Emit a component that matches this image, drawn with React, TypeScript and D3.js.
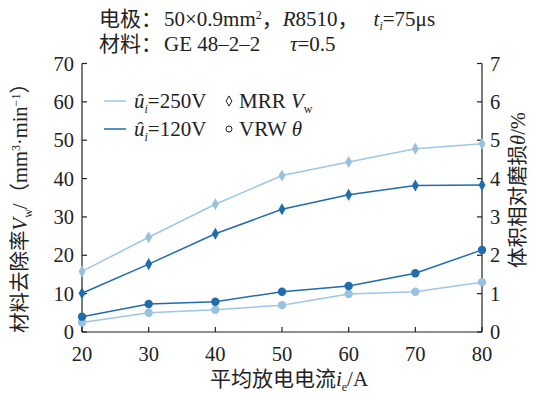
import React from "react";
import * as d3 from "d3";

const currents = [20, 30, 40, 50, 60, 70, 80];
const mrr250 = [15.8, 24.7, 33.3, 40.8, 44.3, 47.8, 49.1];
const mrr120 = [10.1, 17.7, 25.6, 32.0, 35.8, 38.2, 38.3];
const vrw250 = [0.25, 0.5, 0.58, 0.7, 0.99, 1.05, 1.3];
const vrw120 = [0.4, 0.73, 0.79, 1.05, 1.2, 1.53, 2.14];
const leftTicks = [0, 10, 20, 30, 40, 50, 60, 70];
const rightTicks = [0, 1, 2, 3, 4, 5, 6, 7];
const xTicks = [20, 30, 40, 50, 60, 70, 80];

const LIGHT = "#9fc6e3";
const LIGHT_M = "#98c1e0";
const DARK = "#1f6cae";
const FONT = "'Liberation Serif', 'Noto Sans CJK SC', serif";

export default function App() {
  const W = 536, H = 393;
  const left = 82, right = 482, top = 63.5, bottom = 332;
  const x = d3.scaleLinear().domain([20, 80]).range([left, right]);
  const yL = d3.scaleLinear().domain([0, 70]).range([bottom, top]);
  const yR = d3.scaleLinear().domain([0, 7]).range([bottom, top]);

  const lineL = d3.line<number>().x((_, i) => x(currents[i])).y((d) => yL(d));
  const lineR = d3.line<number>().x((_, i) => x(currents[i])).y((d) => yR(d));
  const diamond = d3.symbol().type(d3.symbolDiamond).size(42)();
  const diamondLeg = d3.symbol().type(d3.symbolDiamond).size(30)();

  const tickLen = 5;
  return (
    <svg width={W} height={H} style={{ position: "absolute", left: 0, top: 0, background: "#fff" }} fontFamily={FONT}>
      <rect width={W} height={H} fill="#fff" />
      {/* header */}
      <text x={99} y={26} fontSize={21} fill="#222">
        电极：<tspan dx={2}>50×0.9mm</tspan><tspan dy={-7} fontSize={12}>2</tspan>
        <tspan dy={7}>，</tspan>
        <tspan fontStyle="italic">R</tspan>8510，<tspan fontStyle="italic" dx={15}>t</tspan>
        <tspan fontStyle="italic" fontSize={12} dy={4}>i</tspan>
        <tspan dy={-4}>=75μs</tspan>
      </text>
      <text x={99} y={51} fontSize={21} fill="#222">
        材料：<tspan dx={2}>GE 48–2–2</tspan>
      </text>
      <text x={290} y={51} fontSize={21} fill="#222">
        <tspan fontStyle="italic">τ</tspan>=0.5
      </text>

      {/* axes */}
      <g stroke="#222" strokeWidth={1.2} fill="none">
        <line x1={left} y1={top} x2={left} y2={bottom} />
        <line x1={right} y1={top} x2={right} y2={bottom} />
        <line x1={left} y1={bottom} x2={right} y2={bottom} />
        {leftTicks.map((t) => (
          <line key={"l" + t} x1={left} x2={left + tickLen} y1={yL(t)} y2={yL(t)} />
        ))}
        {rightTicks.map((t) => (
          <line key={"r" + t} x1={right} x2={right - tickLen} y1={yR(t)} y2={yR(t)} />
        ))}
        {xTicks.map((t) => (
          <line key={"x" + t} x1={x(t)} x2={x(t)} y1={bottom} y2={bottom - tickLen} />
        ))}
      </g>
      <g fontSize={20.5} fill="#222">
        {leftTicks.map((t) => (
          <text key={"lt" + t} x={left - 8} y={yL(t)} dy="0.35em" textAnchor="end">{t}</text>
        ))}
        {rightTicks.map((t) => (
          <text key={"rt" + t} x={right + 8} y={yR(t)} dy="0.35em" textAnchor="start">{t}</text>
        ))}
        {xTicks.map((t) => (
          <text key={"xt" + t} x={x(t)} y={bottom + 29} textAnchor="middle">{t}</text>
        ))}
      </g>

      {/* axis titles */}
      <text x={289} y={386} fontSize={21} fill="#222" textAnchor="middle">
        平均放电电流<tspan fontStyle="italic">i</tspan>
        <tspan fontSize={12} dy={5}>e</tspan>
        <tspan dy={-5}>/A</tspan>
      </text>
      <text transform={`translate(27,${203}) rotate(-90)`} fontSize={20.5} fill="#222" textAnchor="middle">
        材料去除率<tspan fontStyle="italic">V</tspan>
        <tspan fontSize={12} dy={5}>w</tspan>
        <tspan dy={-5}>/（mm</tspan>
        <tspan fontSize={12} dy={-7}>3</tspan>
        <tspan dy={7}>·min</tspan>
        <tspan fontSize={12} dy={-7}>−1</tspan>
        <tspan dy={7}>）</tspan>
      </text>
      <text transform={`translate(525,${190}) rotate(-90)`} fontSize={20.5} fill="#222" textAnchor="middle">
        体积相对磨损<tspan fontStyle="italic">θ</tspan>/%
      </text>

      {/* lines */}
      <g fill="none" strokeWidth={1.5}>
        <path d={lineL(mrr250) || ""} stroke={LIGHT} />
        <path d={lineL(mrr120) || ""} stroke={DARK} />
        <path d={lineR(vrw250) || ""} stroke={LIGHT} />
        <path d={lineR(vrw120) || ""} stroke={DARK} />
      </g>
      {/* markers */}
      <g>
        {mrr250.map((d, i) => (
          <path key={"a" + i} d={diamond || ""} transform={`translate(${x(currents[i])},${yL(d)})`} fill={LIGHT_M} />
        ))}
        {mrr120.map((d, i) => (
          <path key={"b" + i} d={diamond || ""} transform={`translate(${x(currents[i])},${yL(d)})`} fill={DARK} />
        ))}
        {vrw250.map((d, i) => (
          <circle key={"c" + i} cx={x(currents[i])} cy={yR(d)} r={4.2} fill={LIGHT_M} />
        ))}
        {vrw120.map((d, i) => (
          <circle key={"d" + i} cx={x(currents[i])} cy={yR(d)} r={4.2} fill={DARK} />
        ))}
      </g>

      {/* legend */}
      <g fontSize={21} fill="#222">
        <line x1={104} x2={126} y1={101} y2={101} stroke={LIGHT} strokeWidth={1.5} />
        <line x1={104} x2={126} y1={129} y2={129} stroke={DARK} strokeWidth={1.5} />
        <text x={134} y={108}>
          <tspan fontStyle="italic">û</tspan>
          <tspan fontStyle="italic" fontSize={12} dy={5}>i</tspan>
          <tspan dy={-5}>=250V</tspan>
        </text>
        <text x={134} y={136}>
          <tspan fontStyle="italic">û</tspan>
          <tspan fontStyle="italic" fontSize={12} dy={5}>i</tspan>
          <tspan dy={-5}>=120V</tspan>
        </text>
        <path d={diamondLeg || ""} transform="translate(229,101)" fill="none" stroke="#222" strokeWidth={1} />
        <circle cx={229} cy={129} r={3} fill="none" stroke="#222" strokeWidth={1} />
        <text x={239} y={108}>
          MRR <tspan fontStyle="italic">V</tspan>
          <tspan fontSize={12} dy={5}>w</tspan>
        </text>
        <text x={239} y={136}>
          VRW <tspan fontStyle="italic">θ</tspan>
        </text>
      </g>
    </svg>
  );
}
